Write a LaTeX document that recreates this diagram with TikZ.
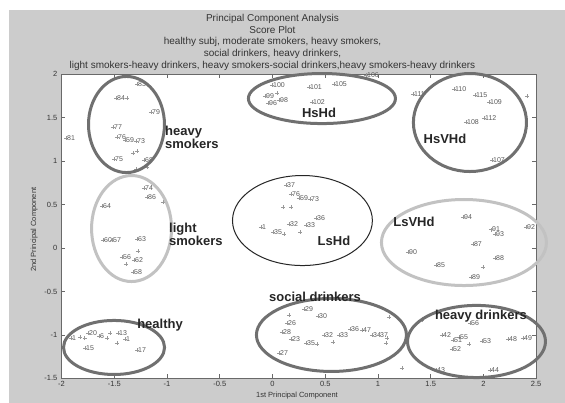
\documentclass[tikz,border=0pt]{standalone}
\usepackage{fontspec}
\setmainfont{Liberation Sans}
\usepackage{xcolor}
\usepackage{tikz}

\definecolor{figbg}{RGB}{204,204,204}
\definecolor{ringdark}{RGB}{112,112,112}
\definecolor{ringlight}{RGB}{194,194,194}
\definecolor{axisgray}{RGB}{105,105,105}

\tikzset{
  pcmark/.style={draw=gray!80, line width=0.5bp},
  pclabel/.style={anchor=west, inner sep=1bp, font=\fontsize{7bp}{7.5bp}\selectfont, text=black!65},
  grplabel/.style={font=\fontsize{13bp}{12bp}\selectfont\bfseries, text=black!85, inner sep=0pt, align=left},
  darkring/.style={draw=ringdark, line width=3bp},
  lightring/.style={draw=ringlight, line width=3bp},
  thinring/.style={draw=black!85, line width=1bp},
  ticklabel/.style={font=\fontsize{7.5bp}{8bp}\selectfont, text=black!80, inner sep=1bp},
  axislabel/.style={font=\fontsize{7.5bp}{8bp}\selectfont, text=black!80, inner sep=0pt},
}

\begin{document}
\begin{tikzpicture}[x=105.5bp, y=86.9bp]
  \useasboundingbox (-2.583,-1.784) rectangle (2.773,2.854);
  \fill[figbg] (-2.4976,-1.784) rectangle (2.773,2.7388);
  \fill[white] (-2,-1.5) rectangle (2.5,2);

  % title and axis labels
  \node[align=center, font=\fontsize{10bp}{11.7bp}\selectfont, text=black!80, inner sep=0pt] (title) at (0,2.367)
    {Principal Component Analysis\\Score Plot\\healthy subj, moderate smokers, heavy smokers,\\social drinkers, heavy drinkers,\\light smokers-heavy drinkers, heavy smokers-social drinkers,heavy smokers-heavy drinkers};
  \node[axislabel] (xlab) at (0.232,-1.703) {1st Principal Component};
  \node[axislabel, rotate=90] (ylab) at (-2.26,0.21) {2nd Principal Component};

  % ticks
  \foreach \t [count=\i] in {-2,-1.5,-1,-0.5,0,0.5,1,1.5,2,2.5} {
    \draw[axisgray, line width=0.6bp] (\t,-1.5) -- ++(0,4bp);
    \draw[axisgray, line width=0.6bp] (\t,2) -- ++(0,-4bp);
    \node[ticklabel, anchor=north] (xt\i) at ([yshift=-2bp]\t,-1.5) {\t};
  }
  \foreach \t [count=\i] in {-1.5,-1,-0.5,0,0.5,1,1.5,2} {
    \draw[axisgray, line width=0.6bp] (-2,\t) -- ++(4bp,0);
    \draw[axisgray, line width=0.6bp] (2.5,\t) -- ++(-4bp,0);
    \node[ticklabel, anchor=east] (yt\i) at ([xshift=-3bp]-2,\t) {\t};
  }
  \draw[axisgray, line width=1.2bp] (-2,-1.5) rectangle (2.5,2);

  % scores: heavy smokers
  \foreach \x/\y/\lab in {-1.957/1.266/81, -1.284/1.887/83, -1.483/1.726/84, -1.152/1.565/79, -1.512/1.392/77,
      -1.474/1.277/76, -1.398/1.243/59, -1.294/1.231/73, -1.502/1.024/75, -1.218/1.013/68} {
    \draw[pcmark] (\x,\y) +(-2bp,0) -- +(2bp,0) +(0,-2bp) -- +(0,2bp);
    \node[pclabel] (hs\lab) at (\x,\y) {\lab};
  }
  % scores: HsHd
  \foreach \x/\y/\lab in {-0.005/1.876/100, -0.071/1.749/99, -0.043/1.669/96, 0.062/1.703/98, 0.346/1.853/101,
      0.583/1.887/105, 0.374/1.680/102, 0.886/1.99/106} {
    \draw[pcmark] (\x,\y) +(-2bp,0) -- +(2bp,0) +(0,-2bp) -- +(0,2bp);
    \node[pclabel] (hh\lab) at (\x,\y) {\lab};
  }
  % scores: HsVHd
  \foreach \x/\y/\lab in {1.332/1.772/111, 1.720/1.830/110, 1.919/1.761/115, 2.052/1.680/109, 1.834/1.450/108,
      2.005/1.496/112, 2.081/1.013/107} {
    \draw[pcmark] (\x,\y) +(-2bp,0) -- +(2bp,0) +(0,-2bp) -- +(0,2bp);
    \node[pclabel] (hv\lab) at (\x,\y) {\lab};
  }
  % scores: light smokers
  \foreach \x/\y/\lab in {-1.218/0.690/74, -1.19/0.587/86, -1.616/0.483/64, -1.607/0.092/60, -1.521/0.092/57,
      -1.284/0.104/63, -1.427/-0.104/56, -1.313/-0.138/62, -1.322/-0.276/58} {
    \draw[pcmark] (\x,\y) +(-2bp,0) -- +(2bp,0) +(0,-2bp) -- +(0,2bp);
    \node[pclabel] (ls\lab) at (\x,\y) {\lab};
  }
  % scores: LsHd
  \foreach \x/\y/\lab in {0.128/0.725/37, 0.175/0.621/76, 0.251/0.575/59, 0.355/0.564/73, -0.109/0.242/1,
      0.005/0.184/35, 0.156/0.276/32, 0.318/0.265/33, 0.412/0.345/36} {
    \draw[pcmark] (\x,\y) +(-2bp,0) -- +(2bp,0) +(0,-2bp) -- +(0,2bp);
    \node[pclabel] (lh\lab) at (\x,\y) {\lab};
  }
  % scores: LsVHd
  \foreach \x/\y/\lab in {1.806/0.357/94, 2.071/0.212/91, 2.109/0.156/93, 2.403/0.242/92, 1.900/0.046/87,
      1.284/-0.046/90, 2.109/-0.115/88, 1.550/-0.196/85, 1.882/-0.334/89} {
    \draw[pcmark] (\x,\y) +(-2bp,0) -- +(2bp,0) +(0,-2bp) -- +(0,2bp);
    \node[pclabel] (lv\lab) at (\x,\y) {\lab};
  }
  % scores: healthy
  \foreach \x/\y/\lab [count=\i] in {-1.910/-1.036/1, -1.749/-0.978/20, -1.645/-1.013/6, -1.464/-0.978/13,
      -1.398/-1.047/1, -1.777/-1.151/15, -1.284/-1.174/17} {
    \draw[pcmark] (\x,\y) +(-2bp,0) -- +(2bp,0) +(0,-2bp) -- +(0,2bp);
    \node[pclabel] (hy\i) at (\x,\y) {\lab};
  }
  % scores: social drinkers
  \foreach \x/\y/\lab in {0.299/-0.702/29, 0.431/-0.783/30, 0.137/-0.863/26, 0.090/-0.967/28, 0.175/-1.047/23,
      0.318/-1.093/35, 0.488/-1.001/32, 0.630/-1.001/33, 0.735/-0.932/36, 0.848/-0.944/47,
      0.943/-1.001/34, 1.009/-1.001/37, 0.062/-1.208/27} {
    \draw[pcmark] (\x,\y) +(-2bp,0) -- +(2bp,0) +(0,-2bp) -- +(0,2bp);
    \node[pclabel] (sd\lab) at (\x,\y) {\lab};
  }
  % scores: heavy drinkers
  \foreach \x/\y/\lab in {1.607/-1.001/42, 1.768/-1.024/55, 1.711/-1.059/51, 1.701/-1.162/52, 1.986/-1.070/53,
      2.232/-1.047/48, 2.374/-1.036/49, 1.872/-0.862/56, 1.550/-1.404/43, 2.062/-1.404/44} {
    \draw[pcmark] (\x,\y) +(-2bp,0) -- +(2bp,0) +(0,-2bp) -- +(0,2bp);
    \node[pclabel] (hd\lab) at (\x,\y) {\lab};
  }
  % unlabelled scores
  \foreach \x/\y in {-1.379/1.726, -1.322/1.093, -1.284/1.116, -1.19/0.932, -1.294/0.909, 0.043/1.784,
      2.412/1.749, -1.038/0.529, -1.275/-0.035, -1.389/-0.184, 0.1/0.47, 0.175/0.47, 0.109/0.161,
      0.261/0.184, 1.995/-0.219, -1.825/-1.024, -1.569/-1.036, -1.474/-1.093, -1.540/-0.978,
      -1.780/-1.036, 0.156/-0.771, 0.422/-1.105, 0.573/-1.082, 1.085/-1.036, 1.076/-1.093,
      1.104/-0.794, 1.227/-1.381, 1.863/-1.105, 1.417/-0.829} {
    \draw[pcmark] (\x,\y) +(-2bp,0) -- +(2bp,0) +(0,-2bp) -- +(0,2bp);
  }

  % groups
  \draw[darkring] (-1.384,1.421) ellipse [x radius=0.360, y radius=0.553];
  \draw[darkring] (0.469,1.720) ellipse [x radius=0.697, y radius=0.288];
  \draw[darkring] (1.872,1.444) ellipse [x radius=0.536, y radius=0.564];
  \draw[lightring] (-1.336,0.224) ellipse [x radius=0.379, y radius=0.610];
  \draw[thinring] (0.284,0.316) ellipse [x radius=0.663, y radius=0.518];
  \draw[lightring] (1.815,0.063) ellipse [x radius=0.782, y radius=0.495];
  \draw[darkring] (-1.502,-1.145) ellipse [x radius=0.479, y radius=0.311];
  \draw[darkring] (0.559,-1.001) ellipse [x radius=0.711, y radius=0.420];
  \draw[darkring] (1.934,-1.076) ellipse [x radius=0.654, y radius=0.415];

  \node[grplabel, anchor=west] (hsmk) at (-1.019,1.277) {heavy\\smokers};
  \node[grplabel] (hshd) at (0.441,1.553) {HsHd};
  \node[grplabel] (hsvhd) at (1.635,1.254) {HsVHd};
  \node[grplabel, anchor=west] (lsmk) at (-0.981,0.155) {light\\smokers};
  \node[grplabel] (lshd) at (0.583,0.081) {LsHd};
  \node[grplabel] (lsvhd) at (1.341,0.299) {LsVHd};
  \node[grplabel] (hlth) at (-1.066,-0.886) {healthy};
  \node[grplabel] (sdrk) at (0.403,-0.564) {social drinkers};
  \node[grplabel] (hdrk) at (1.976,-0.783) {heavy drinkers};
\end{tikzpicture}
\end{document}
